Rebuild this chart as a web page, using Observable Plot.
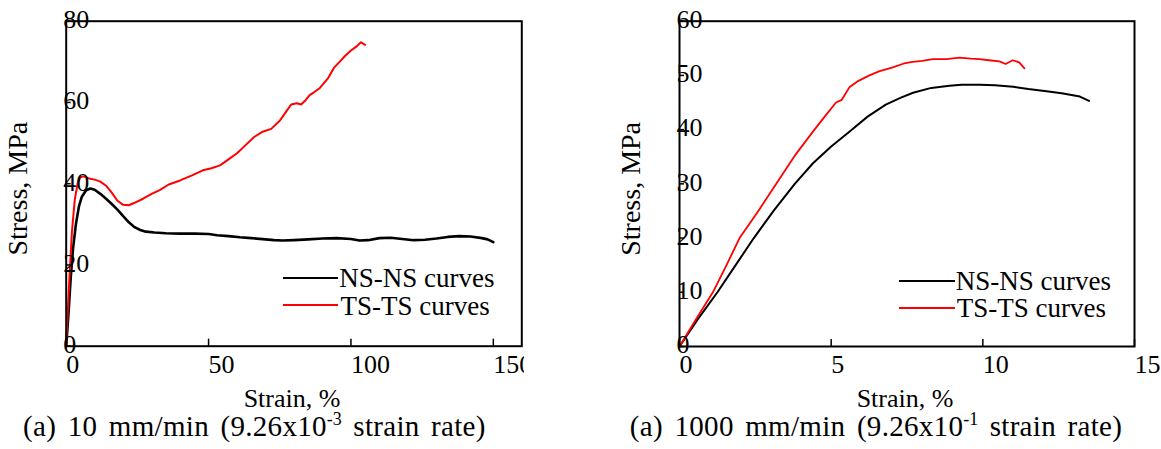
<!DOCTYPE html>
<html>
<head>
<meta charset="utf-8">
<script src="https://cdn.jsdelivr.net/npm/d3@7"></script>
<script src="https://cdn.jsdelivr.net/npm/@observablehq/plot@0.6"></script>
<style>
  html, body { margin: 0; padding: 0; background: #fff; }
  body { width: 1161px; height: 449px; overflow: hidden; position: relative;
         font-family: "Liberation Serif", "Times New Roman", serif; color: #000; }
  .panel { position: absolute; top: 0; overflow: hidden; }
  .lline { position: absolute; height: 0; }
  .ltext { position: absolute; font-size: 27px; line-height: 27px; white-space: nowrap; font-family: "Liberation Serif", serif; }
  .cap { position: absolute; font-size: 29px; line-height: 24px; white-space: nowrap; text-align: center;
         letter-spacing: 0.3px; word-spacing: 4px; font-family: "Liberation Serif", serif; }
  .cap .sup { font-size: 0.62em; position: relative; top: -0.62em; letter-spacing: 0; }
</style>
</head>
<body>
<div id="left" class="panel" style="left:0px;width:524px;height:449px"></div>
<div id="right" class="panel" style="left:560px;width:601px;height:449px"></div>

<div class="lline" style="left:282.7px;top:276.7px;width:55.6px;border-top:2px solid #000"></div>
<div class="ltext" style="left:339.3px;top:265.3px">NS-NS curves</div>
<div class="lline" style="left:282.7px;top:304px;width:55.6px;border-top:2px solid #ff0000"></div>
<div class="ltext" style="left:340.5px;top:292.6px">TS-TS curves</div>

<div class="lline" style="left:899.3px;top:279.7px;width:55.7px;border-top:2px solid #000"></div>
<div class="ltext" style="left:955.7px;top:268px">NS-NS curves</div>
<div class="lline" style="left:899.3px;top:307.3px;width:55.7px;border-top:2px solid #ff0000"></div>
<div class="ltext" style="left:956.7px;top:295.3px">TS-TS curves</div>

<div class="cap" style="left:-45.6px;width:600px;top:414px">(a) 10 mm/min (9.26x10<span class="sup">-3</span> strain rate)</div>
<div class="cap" style="left:576px;width:600px;top:414px">(a) 1000 mm/min (9.26x10<span class="sup">-1</span> strain rate)</div>

<script>
// ---------- data ----------
// (a) 10 mm/min
const slowNSStrain = [0, 0.8, 1.6, 2.4, 3.4, 4.5, 5.5, 7, 8.5, 10, 12, 14, 16, 18, 20, 22, 24, 26, 28, 31, 35, 40, 45, 50, 53, 57, 61, 65, 70, 73, 76, 80, 85, 90, 95, 100, 103, 106, 110, 114, 118, 122, 126, 130, 134, 138, 142, 146, 148, 150];
const slowNSStress = [0, 8, 17, 24, 30, 34.5, 36.8, 38.4, 38.8, 38.5, 37.5, 36.3, 35, 33.6, 32, 30.5, 29.3, 28.6, 28.2, 28, 27.8, 27.7, 27.7, 27.6, 27.3, 27.1, 26.8, 26.6, 26.3, 26.1, 26, 26.1, 26.3, 26.5, 26.6, 26.4, 26, 26.1, 26.6, 26.7, 26.4, 26.1, 26.2, 26.5, 26.9, 27.1, 27, 26.6, 26.3, 25.6];
const slowTSStrain = [0, 1, 2, 3, 4, 5, 6, 8, 10, 12, 14, 16, 18, 20, 22, 24, 27, 30, 33, 36, 40, 44, 48, 51, 54, 57, 60, 63, 66, 69, 72, 75, 77, 79, 81, 82.5, 84, 85.5, 87, 89, 92, 94, 96, 98, 100, 102, 103.5, 105];
const slowTSStress = [0, 15, 28, 36, 40, 41.6, 41.8, 41.3, 41, 40.5, 39.5, 37.8, 35.8, 34.8, 34.7, 35.3, 36.3, 37.5, 38.5, 39.8, 40.8, 42, 43.3, 43.8, 44.5, 46, 47.5, 49.5, 51.5, 52.8, 53.5, 55.5, 57.5, 59.5, 59.8, 59.5, 60.5, 61.8, 62.5, 63.5, 66, 68.5, 70, 71.5, 72.8, 73.8, 74.8, 74.2];
// (a) 1000 mm/min
const fastNSStrain = [0, 0.6, 1.25, 1.85, 2.45, 3.1, 3.8, 4.4, 5, 5.6, 6.2, 6.8, 7.3, 7.7, 8.3, 8.9, 9.3, 9.9, 10.4, 11, 11.5, 12.1, 12.6, 13.2, 13.5];
const fastNSStress = [0, 5, 10, 15, 20, 25, 30, 33.8, 36.9, 39.6, 42.4, 44.6, 45.9, 46.8, 47.7, 48.1, 48.3, 48.3, 48.2, 47.9, 47.5, 47.1, 46.7, 46.1, 45.3];
const fastTSStrain = [0, 0.5, 1.1, 1.55, 1.98, 2.6, 3.19, 3.8, 4.45, 4.8, 5.16, 5.35, 5.6, 5.9, 6.26, 6.6, 7.03, 7.4, 7.69, 8, 8.35, 8.8, 9.23, 9.6, 9.89, 10.2, 10.55, 10.75, 10.99, 11.2, 11.37];
const fastTSStress = [0, 4.6, 10, 15, 20, 25, 30, 35.2, 40, 42.5, 45, 45.5, 47.8, 49, 50, 50.8, 51.5, 52.2, 52.5, 52.7, 53, 53, 53.3, 53.1, 53, 52.8, 52.6, 52.1, 52.8, 52.4, 51.3];

const slowXTicks = [0, 50, 100, 150];
const slowYTicks = [0, 20, 40, 60, 80];
const fastXTicks = [0, 5, 10, 15];
const fastYTicks = [0, 10, 20, 30, 40, 50, 60];

const xTitle = "Strain, %";
const yTitle = "Stress, MPa";

const zip = (xs, ys) => xs.map((x, i) => ({strain: x, stress: ys[i]}));
const serif = '"Liberation Serif", "Times New Roman", serif';

function chart({width, marginLeft, marginRight, xDomain, yDomain, xTicks, yTicks, ns, ts, nsWidth, tsWidth, marginBottom}) {
  return Plot.plot({
    width, height: 449,
    marginLeft, marginRight, marginTop: 20.7, marginBottom,
    x: {domain: xDomain, axis: null, label: null},
    y: {domain: yDomain, axis: null, label: null},
    style: {fontFamily: serif, fontSize: "26px", color: "#000", background: "transparent"},
    marks: [
      Plot.line(ns, {x: "strain", y: "stress", stroke: "#000", strokeWidth: nsWidth, strokeLinejoin: "round"}),
      Plot.line(ts, {x: "strain", y: "stress", stroke: "#ff0000", strokeWidth: tsWidth, strokeLinejoin: "round"}),
      Plot.frame({stroke: "#000", strokeWidth: 2}),
      Plot.axisX(xTicks, {tickSize: 7, dy: -7, text: null, label: null, strokeWidth: 1.5}),
      Plot.axisY(yTicks, {tickSize: 5, dx: 5, text: null, label: null, strokeWidth: 1.5}),
      Plot.text(xTicks, {x: d => d, frameAnchor: "bottom", dy: 18, textAnchor: "start", lineAnchor: "middle", text: d => String(d), fontSize: 26, fontFamily: serif}),
      Plot.text(yTicks, {y: d => d, frameAnchor: "left", dx: -3, dy: -1.5, textAnchor: "start", lineAnchor: "middle", text: d => String(d), fontSize: 26, fontFamily: serif}),
      Plot.text([xTitle], {frameAnchor: "bottom", dy: 52, dx: -2, textAnchor: "middle", lineAnchor: "middle", text: d => d, fontSize: 26, fontFamily: serif}),
      Plot.text([yTitle], {frameAnchor: "left", rotate: -90, dx: -48, dy: 5, textAnchor: "middle", lineAnchor: "middle", text: d => d, fontSize: 28, fontFamily: serif})
    ]
  });
}

document.getElementById("left").append(chart({
  width: 524, marginLeft: 65.7, marginRight: 2.7, marginBottom: 449 - 345.7,
  xDomain: [0, 160], yDomain: [0, 80], xTicks: slowXTicks, yTicks: slowYTicks,
  ns: zip(slowNSStrain, slowNSStress), ts: zip(slowTSStrain, slowTSStress),
  nsWidth: 2.6, tsWidth: 2
}));
document.getElementById("right").append(chart({
  width: 601, marginLeft: 119, marginRight: 27, marginBottom: 449 - 346,
  xDomain: [0, 15], yDomain: [0, 60], xTicks: fastXTicks, yTicks: fastYTicks,
  ns: zip(fastNSStrain, fastNSStress), ts: zip(fastTSStrain, fastTSStress),
  nsWidth: 2, tsWidth: 1.8
}));
</script>
</body>
</html>
